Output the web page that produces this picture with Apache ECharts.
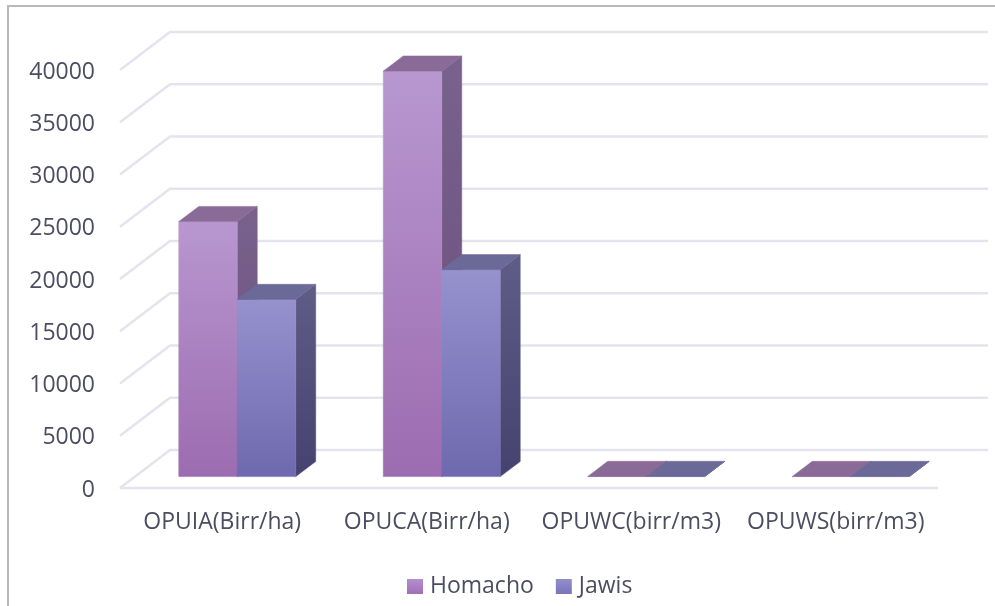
<!DOCTYPE html>
<html>
<head>
<meta charset="utf-8">
<style>html,body{margin:0;padding:0;background:#fff}#chart{width:995px;height:606px}</style>
<script src="https://cdn.jsdelivr.net/npm/echarts@6/dist/echarts.min.js"></script>
</head>
<body>
<div id="chart"></div>
<script>
const categories = ['OPUIA(Birr/ha)', 'OPUCA(Birr/ha)', 'OPUWC(birr/m3)', 'OPUWS(birr/m3)'];
const homacho = [24400, 38800, 12, 9];
const jawis = [16950, 19800, 10, 8];
const yTicks = [0, 5000, 10000, 15000, 20000, 25000, 30000, 35000, 40000];

// Pseudo-3D projection: how far the back wall sits from the front plane, in pixels.
const WALL_DX = 50, WALL_DY = -38;
const BAR_NEAR = 0.3, BAR_FAR = 0.7;       // depth span of a bar, as a share of the wall depth
const BAR_SHARE = 0.286;                   // width of one bar, as a share of a category band
const TEXT_COLOR = '#4d4d62';

const vgrad = (a, b) => ({ type: 'linear', x: 0, y: 0, x2: 0, y2: 1, colorStops: [{ offset: 0, color: a }, { offset: 1, color: b }] });

const palette = {
  Homacho: { front: ['#b897d0', '#9c6cb0'], side: ['#78628c', '#6d4c7e'], top: '#8a6a96' },
  Jawis:   { front: ['#9692ce', '#6e69ae'], side: ['#5f5c88', '#46426f'], top: '#6b6998' }
};

function poly(points, fill) {
  return { type: 'polygon', shape: { points }, style: { fill, stroke: fill, lineWidth: 0.5 } };
}

// One bar: front face, right side and top, with the pair sitting side by side in the band.
function barRenderer(name, slot) {
  const c = palette[name];
  return function (params, api) {
    const base = api.coord([api.value(0), 0]);
    const tip = api.coord([api.value(0), api.value(1)]);
    const w = api.size([1, 0])[0] * BAR_SHARE;
    const nx = WALL_DX * BAR_NEAR, ny = WALL_DY * BAR_NEAR;
    const dx = WALL_DX * (BAR_FAR - BAR_NEAR), dy = WALL_DY * (BAR_FAR - BAR_NEAR);
    const x0 = base[0] + nx + (slot - 1) * w, x1 = x0 + w;
    const yB = base[1] + ny, yT = tip[1] + ny;
    return {
      type: 'group',
      children: [
        poly([[x1, yB], [x1 + dx, yB + dy], [x1 + dx, yT + dy], [x1, yT]], vgrad(c.side[0], c.side[1])),
        poly([[x0, yB], [x1, yB], [x1, yT], [x0, yT]], vgrad(c.front[0], c.front[1])),
        poly([[x0, yT], [x1, yT], [x1 + dx, yT + dy], [x0 + dx, yT + dy]], c.top)
      ]
    };
  };
}

// Gridlines run up the side wall from the value axis and across the back wall.
function wallRenderer(params, api) {
  const cs = params.coordSys;
  const y = api.coord([0, api.value(1)])[1];
  const isFloor = api.value(1) === 0;
  const pts = [[cs.x, y], [cs.x + WALL_DX, y + WALL_DY], [cs.x + cs.width + WALL_DX, y + WALL_DY]];
  const children = [{
    type: 'polyline', shape: { points: pts },
    style: { stroke: '#e5e3ed', lineWidth: 2.5, fill: null }
  }];
  if (isFloor) {
    children.push({
      type: 'line', shape: { x1: cs.x, y1: y, x2: cs.x + cs.width, y2: y },
      style: { stroke: '#e5e3ed', lineWidth: 2.5 }
    });
  }
  return { type: 'group', children };
}

const chart = echarts.init(document.getElementById('chart'), null, { renderer: 'canvas' });
chart.setOption({
  animation: false,
  backgroundColor: '#ffffff',
  textStyle: { fontFamily: '"Open Sans"' },
  grid: { left: 120, right: 57, top: 70, bottom: 118 },
  graphic: [{
    type: 'polyline', silent: true,
    shape: { points: [[8, 606], [8, 6], [995, 6]] },
    style: { stroke: '#b9b9b9', lineWidth: 2, fill: null }
  }],
  legend: {
    data: ['Homacho', 'Jawis'],
    left: 402, top: 570,
    itemWidth: 16, itemHeight: 15, itemGap: 22,
    icon: 'rect',
    textStyle: { fontSize: 23, color: TEXT_COLOR, padding: [0, 0, 0, 2] }
  },
  xAxis: {
    type: 'category',
    data: categories,
    axisLine: { show: false }, axisTick: { show: false },
    axisLabel: { fontSize: 23, color: TEXT_COLOR, margin: 23, interval: 0 }
  },
  yAxis: {
    type: 'value', min: 0, max: 40000, interval: 5000,
    axisLine: { show: false }, axisTick: { show: false }, splitLine: { show: false },
    axisLabel: {
      margin: 25,
      formatter: v => '{tick|' + v + '}',
      rich: { tick: { fontSize: 23, color: TEXT_COLOR, padding: [4, 0, 0, 0] } }
    }
  },
  series: [
    { type: 'custom', name: 'wall', silent: true, z: 1, renderItem: wallRenderer,
      data: yTicks.map(t => [0, t]), encode: { x: 0, y: 1 } },
    { type: 'custom', name: 'Homacho', z: 2, renderItem: barRenderer('Homacho', 0),
      itemStyle: { color: vgrad('#b48fce', '#a06fb5') },
      data: homacho.map((v, i) => [i, v]), encode: { x: 0, y: 1 } },
    { type: 'custom', name: 'Jawis', z: 3, renderItem: barRenderer('Jawis', 1),
      itemStyle: { color: vgrad('#938fcb', '#7a74ba') },
      data: jawis.map((v, i) => [i, v]), encode: { x: 0, y: 1 } }
  ]
});
</script>
</body>
</html>
